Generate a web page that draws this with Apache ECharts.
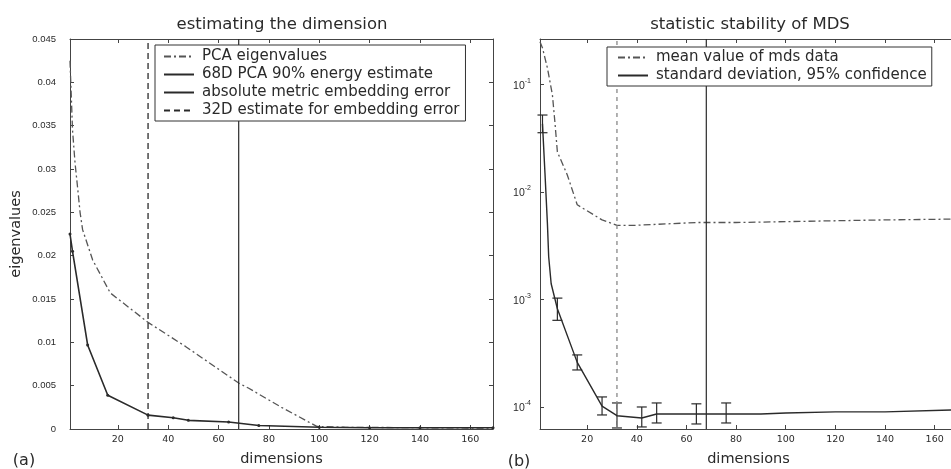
<!DOCTYPE html>
<html><head><meta charset="utf-8">
<script src="https://cdn.jsdelivr.net/npm/echarts@6/dist/echarts.min.js"></script>
<style>html,body{margin:0;padding:0;background:#fff}#c{width:951px;height:469px}</style>
</head><body><div id="c"></div>
<script>
// ---- Panel (a): estimating the dimension ----
const pcaX = [1, 2, 3, 4, 5, 6, 10, 17, 32, 47, 68, 72, 85, 99, 110, 140, 169];
const pcaY = [0.0425, 0.0345, 0.0307, 0.0279, 0.025, 0.023, 0.0195, 0.0157, 0.0123, 0.0095, 0.0053, 0.0047, 0.0025, 0.0003, 0.0002, 0.00015, 0.0001];
const embX = [1, 2, 8, 16, 32, 42, 48, 64, 76, 100, 120, 140, 169];
const embY = [0.0225, 0.0205, 0.0097, 0.0039, 0.0016, 0.0013, 0.0010, 0.0008, 0.0004, 0.0002, 0.00015, 0.00015, 0.00015];
const pcaEstimateX = 68;
const embEstimateX = 32;
const leftYRange = [0, 0.045];
const xTicks = [20, 40, 60, 80, 100, 120, 140, 160];
const leftLegend = ['PCA eigenvalues', '68D PCA 90% energy estimate', 'absolute metric embedding error', '32D estimate for embedding error'];

// ---- Panel (b): statistic stability of MDS ----
const meanX = [1, 2, 4, 6, 7, 8, 12, 16, 26, 32, 40, 48, 64, 80, 100, 120, 140, 169];
const meanY = [0.25, 0.219, 0.142, 0.080, 0.0448, 0.0236, 0.0144, 0.0076, 0.0055, 0.0049, 0.0049, 0.0050, 0.0052, 0.0052, 0.0053, 0.0054, 0.0055, 0.0056];
const stdX = [2, 3, 4, 4.5, 5.5, 8, 16, 26, 32, 42, 48, 64, 76, 90, 100, 120, 140, 169];
const stdY = [0.043, 0.015, 0.005, 0.0025, 0.0014, 0.00082, 0.00026, 0.000102, 0.000083, 0.000079, 0.000086, 0.000086, 0.000086, 0.000086, 0.000088, 0.00009, 0.00009, 0.000094];
const barX = [2, 8, 16, 26, 32, 42, 48, 64, 76];
const barLow = [0.0356, 0.00064, 0.000221, 0.0000843, 0.0000638, 0.0000652, 0.000071, 0.0000695, 0.000071];
const barHigh = [0.052, 0.00103, 0.000305, 0.000124, 0.000109, 0.0001, 0.000109, 0.000107, 0.000109];
const rightYRange = [0.0000624, 0.265];
const rightLegend = ['mean value of mds data', 'standard deviation, 95% confidence'];

const FONT = 'DejaVu Sans';
const TFONT = 'Liberation Sans';
const INK = '#2a2a2a';
const AX = '#444';
const dashDot = [7, 3, 2, 3];

const zip = (xs, ys) => xs.map((x, i) => [x, ys[i]]);

function xAxisPair(grid) {
  const base = {
    type: 'value', gridIndex: grid, min: 1, max: 169,
    axisLine: {show: true, onZero: false, lineStyle: {color: AX, width: 1}},
    splitLine: {show: false},
    axisTick: {show: true, inside: true, length: 4, customValues: xTicks, lineStyle: {color: AX}}
  };
  return [
    Object.assign({}, base, {position: 'bottom', name: 'dimensions', nameLocation: 'middle', nameGap: 23,
      nameTextStyle: {fontFamily: FONT, fontSize: 14.5, color: INK},
      axisLabel: {show: true, customValues: xTicks, fontFamily: FONT, fontSize: 9.5, color: INK, margin: 6}}),
    Object.assign({}, base, {position: 'top', axisLabel: {show: false}})
  ];
}

const supFmt = v => {
  const e = Math.round(Math.log10(v));
  return '{b|10}{s|' + e + '}';
};

const legendBase = {
  orient: 'vertical', itemGap: 3, itemWidth: 30, itemHeight: 12,
  borderColor: '#333', borderWidth: 1, backgroundColor: '#fff',
  itemStyle: {opacity: 0},
  textStyle: {fontFamily: FONT, fontSize: 15, color: INK, padding: [0, 0, 0, 3]},
  selectedMode: false
};

const option = {
  backgroundColor: '#fff',
  animation: false,
  grid: [
    {left: 70, top: 39, width: 423, height: 390, outerBoundsMode: 'none', containLabel: false},
    {left: 540, top: 39, width: 417, height: 390, outerBoundsMode: 'none', containLabel: false}
  ],
  xAxis: [...xAxisPair(0), ...xAxisPair(1)],
  yAxis: [
    {type: 'value', gridIndex: 0, position: 'left', min: leftYRange[0], max: leftYRange[1], interval: 0.005,
      name: 'eigenvalues', nameLocation: 'middle', nameGap: 46,
      nameTextStyle: {fontFamily: FONT, fontSize: 14.5, color: INK},
      axisLine: {show: true, lineStyle: {color: AX}}, splitLine: {show: false},
      axisTick: {show: true, inside: true, length: 4, lineStyle: {color: AX}},
      axisLabel: {fontFamily: TFONT, fontSize: 9.5, color: INK, margin: 14}},
    {type: 'value', gridIndex: 0, position: 'right', min: leftYRange[0], max: leftYRange[1], interval: 0.005,
      axisLine: {show: true, lineStyle: {color: AX}}, splitLine: {show: false},
      axisTick: {show: true, inside: true, length: 4, lineStyle: {color: AX}},
      axisLabel: {show: false}},
    {type: 'log', gridIndex: 1, position: 'left', min: rightYRange[0], max: rightYRange[1], logBase: 10,
      axisLine: {show: true, lineStyle: {color: AX}}, splitLine: {show: false},
      axisTick: {show: true, inside: true, length: 4, lineStyle: {color: AX}},
      axisLabel: {showMinLabel: false, showMaxLabel: false, margin: 9, formatter: supFmt,
        rich: {b: {fontFamily: TFONT, fontSize: 10.5, color: INK, verticalAlign: 'bottom', lineHeight: 14},
               s: {fontFamily: TFONT, fontSize: 7, color: INK, verticalAlign: 'top', lineHeight: 14, padding: [0, 0, 6, 0]}}}},
    {type: 'log', gridIndex: 1, position: 'right', min: rightYRange[0], max: rightYRange[1], logBase: 10,
      axisLine: {show: true, lineStyle: {color: AX}}, splitLine: {show: false},
      axisTick: {show: true, inside: true, length: 4, lineStyle: {color: AX}},
      axisLabel: {show: false}}
  ],
  legend: [
    Object.assign({}, legendBase, {data: leftLegend, left: 155, top: 45, padding: [4, 6, 3, 8]}),
    Object.assign({}, legendBase, {data: rightLegend, left: 607, top: 47, padding: [3, 5, 3, 10]})
  ],
  graphic: [
    {type: 'text', x: 282, y: 25, style: {text: 'estimating the dimension', fontFamily: FONT, fontSize: 16.5, fill: INK, align: 'center', verticalAlign: 'middle'}},
    {type: 'text', x: 750, y: 25, style: {text: 'statistic stability of MDS', fontFamily: FONT, fontSize: 16.5, fill: INK, align: 'center', verticalAlign: 'middle'}},
    {type: 'text', x: 24, y: 461, style: {text: '(a)', fontFamily: FONT, fontSize: 16, fill: INK, align: 'center', verticalAlign: 'middle'}},
    {type: 'text', x: 519, y: 462, style: {text: '(b)', fontFamily: FONT, fontSize: 16, fill: INK, align: 'center', verticalAlign: 'middle'}}
  ],
  series: [
    {name: 'PCA eigenvalues', type: 'line', xAxisIndex: 0, yAxisIndex: 0, data: zip(pcaX, pcaY), symbol: 'none',
      lineStyle: {color: '#555', width: 1.3, type: dashDot}, itemStyle: {color: '#555'}},
    {name: '68D PCA 90% energy estimate', type: 'line', xAxisIndex: 0, yAxisIndex: 0,
      data: [[pcaEstimateX, leftYRange[0]], [pcaEstimateX, leftYRange[1]]], symbol: 'none',
      lineStyle: {color: INK, width: 1.2}, itemStyle: {color: INK}},
    {name: 'absolute metric embedding error', type: 'line', xAxisIndex: 0, yAxisIndex: 0, data: zip(embX, embY),
      symbol: 'circle', symbolSize: 3, showAllSymbol: true,
      lineStyle: {color: INK, width: 1.6}, itemStyle: {color: INK}},
    {name: '32D estimate for embedding error', type: 'line', xAxisIndex: 0, yAxisIndex: 0,
      data: [[embEstimateX, leftYRange[0]], [embEstimateX, leftYRange[1]]], symbol: 'none',
      lineStyle: {color: INK, width: 1.3, type: [6, 4]}, itemStyle: {color: INK}},

    {name: 'mean value of mds data', type: 'line', xAxisIndex: 2, yAxisIndex: 2, data: zip(meanX, meanY), symbol: 'none',
      lineStyle: {color: '#555', width: 1.3, type: dashDot}, itemStyle: {color: '#555'}},
    {name: 'standard deviation, 95% confidence', type: 'line', xAxisIndex: 2, yAxisIndex: 2, data: zip(stdX, stdY), symbol: 'none',
      lineStyle: {color: INK, width: 1.4}, itemStyle: {color: INK}},
    {name: 'error bars', type: 'custom', xAxisIndex: 2, yAxisIndex: 2,
      data: barX.map((x, i) => [x, barLow[i], barHigh[i]]),
      encode: {x: 0, y: [1, 2]},
      renderItem: (params, api) => {
        const x = api.value(0);
        const lo = api.coord([x, api.value(1)]);
        const hi = api.coord([x, api.value(2)]);
        const w = 5;
        const st = {stroke: INK, lineWidth: 1.2};
        return {type: 'group', children: [
          {type: 'line', shape: {x1: lo[0], y1: lo[1], x2: hi[0], y2: hi[1]}, style: st},
          {type: 'line', shape: {x1: lo[0] - w, y1: lo[1], x2: lo[0] + w, y2: lo[1]}, style: st},
          {type: 'line', shape: {x1: hi[0] - w, y1: hi[1], x2: hi[0] + w, y2: hi[1]}, style: st}
        ]};
      }},
    {name: 'dim 32', type: 'line', xAxisIndex: 2, yAxisIndex: 2,
      data: [[embEstimateX, rightYRange[0]], [embEstimateX, rightYRange[1]]], symbol: 'none',
      lineStyle: {color: '#888', width: 1.3, type: [4, 4]}},
    {name: 'dim 68', type: 'line', xAxisIndex: 2, yAxisIndex: 2,
      data: [[pcaEstimateX, rightYRange[0]], [pcaEstimateX, rightYRange[1]]], symbol: 'none',
      lineStyle: {color: INK, width: 1.2}}
  ]
};
echarts.init(document.getElementById('c'), null, {renderer: 'canvas'}).setOption(option);
</script></body></html>
